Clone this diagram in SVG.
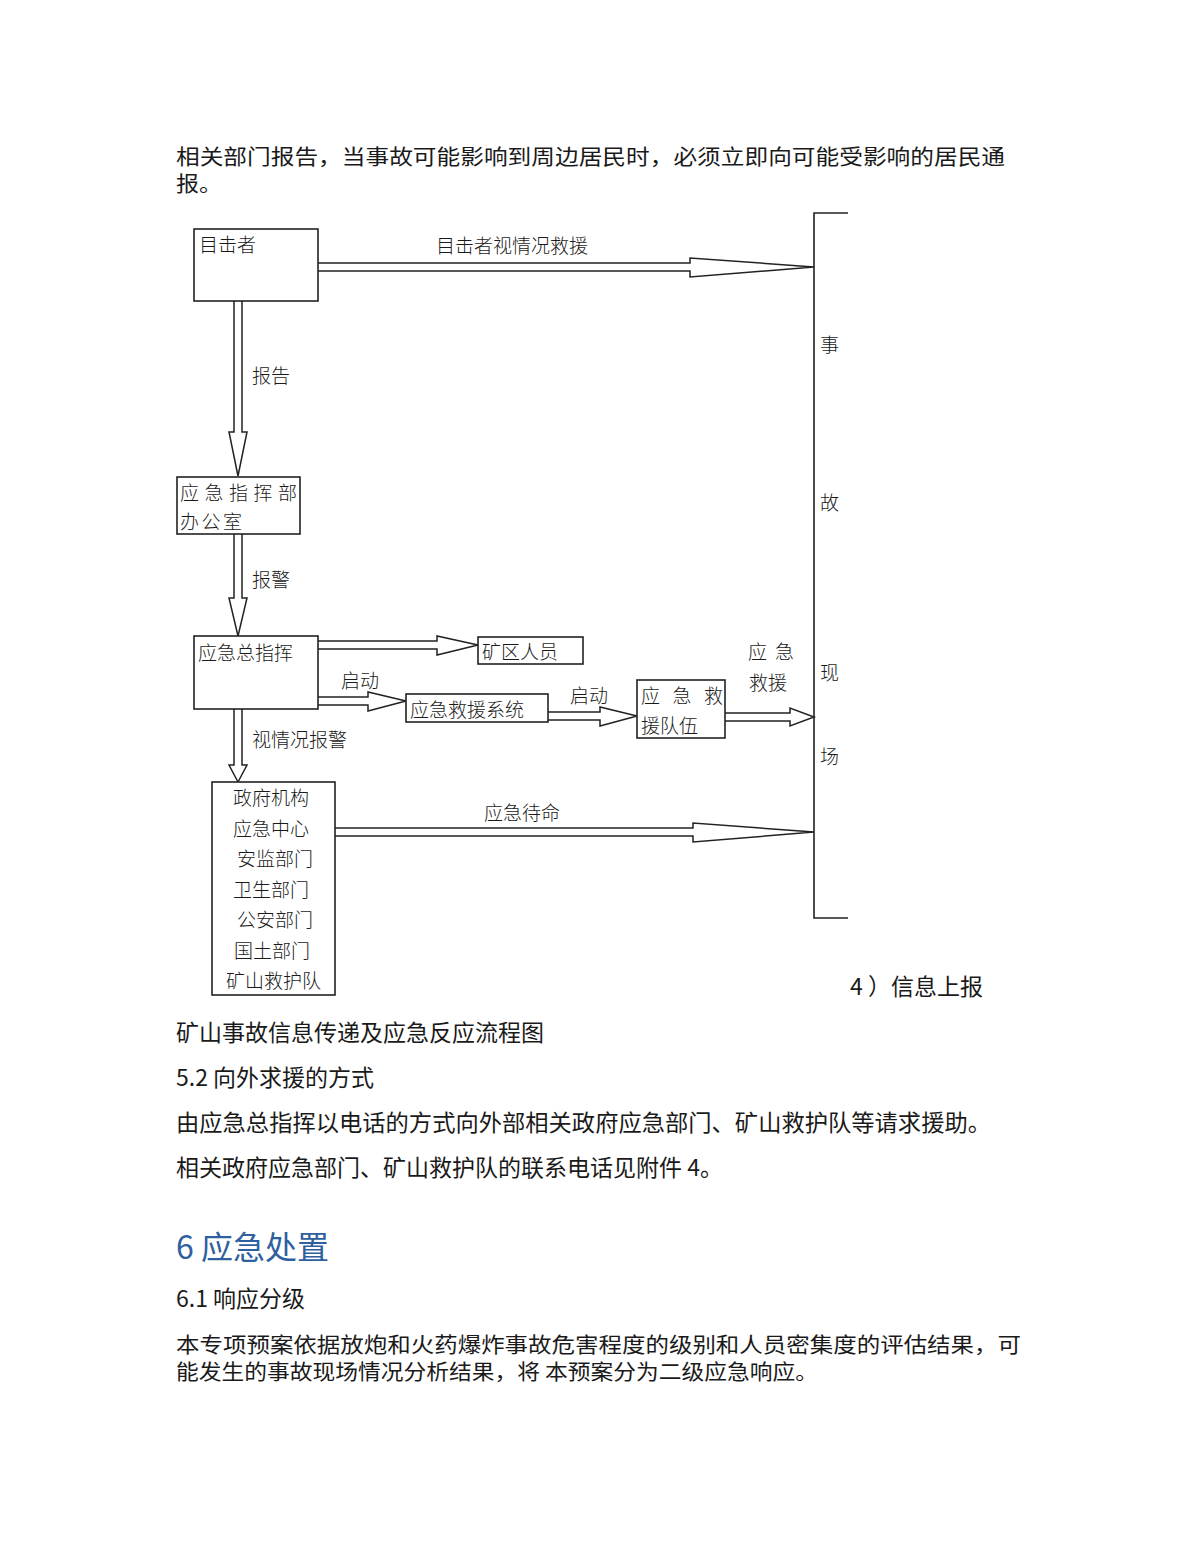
<svg xmlns="http://www.w3.org/2000/svg" width="1200" height="1553" viewBox="0 0 1200 1553">
<style>
.body{font-family:"Noto Sans CJK SC","Liberation Sans",sans-serif;font-size:23px;fill:#1a1a1a;}
.tight{font-size:21px;}
.dg{font-family:"Noto Sans CJK SC","Liberation Sans",sans-serif;font-size:19px;fill:#1a1a1a;font-weight:300;}
.box{fill:#fff;stroke:#222;stroke-width:1.6;}
.arr{fill:#fff;stroke:#222;stroke-width:1.5;stroke-linejoin:miter;}
.ln{fill:none;stroke:#222;stroke-width:1.6;}
.h1{font-family:"Noto Sans CJK SC","Liberation Sans",sans-serif;font-size:32px;fill:#2f5f9e;}
</style>
<rect width="1200" height="1553" fill="#fff"/>

<text class="body tight" x="176" y="164" textLength="829" lengthAdjust="spacingAndGlyphs">相关部门报告，当事故可能影响到周边居民时，必须立即向可能受影响的居民通</text>
<text class="body tight" x="176" y="191" textLength="46" lengthAdjust="spacingAndGlyphs">报。</text>

<g id="connectors">
  <!-- 目击者 -> 事故现场 -->
  <path class="arr" d="M318,263 L690,263 L690,258 L814,267 L690,277 L690,271 L318,271"/>
  <!-- 目击者 -> 应急指挥部办公室 -->
  <path class="arr" d="M234,301 L234,432 L229,432 L238,476 L247,432 L242,432 L242,301"/>
  <!-- 办公室 -> 应急总指挥 -->
  <path class="arr" d="M234,534 L234,598 L229,598 L238,636 L247,598 L242,598 L242,534"/>
  <!-- 应急总指挥 -> 矿区人员 -->
  <path class="arr" d="M318,641 L437,641 L437,636 L478,645 L437,655 L437,649 L318,649"/>
  <!-- 应急总指挥 -> 应急救援系统 -->
  <path class="arr" d="M318,697 L368,697 L368,692 L406,701 L368,711 L368,705 L318,705"/>
  <!-- 应急救援系统 -> 应急救援队伍 -->
  <path class="arr" d="M548,712 L600,712 L600,707 L637,716 L600,726 L600,720 L548,720"/>
  <!-- 应急救援队伍 -> 事故现场 -->
  <path class="arr" d="M725,713 L790,713 L790,708 L814,717 L790,726 L790,721 L725,721"/>
  <!-- 应急总指挥 -> 政府机构 -->
  <path class="arr" d="M234,709 L234,765 L229,765 L238,782 L247,765 L242,765 L242,709"/>
  <!-- 政府机构 -> 事故现场 -->
  <path class="arr" d="M335,828 L693,828 L693,823 L814,832 L693,842 L693,836 L335,836"/>

  <text class="dg" x="512" y="253" text-anchor="middle">目击者视情况救援</text>
  <text class="dg" x="252" y="383">报告</text>
  <text class="dg" x="252" y="587">报警</text>
  <text class="dg" x="341" y="688">启动</text>
  <text class="dg" x="570" y="703">启动</text>
  <text class="dg" x="748" y="659" textLength="46" lengthAdjust="spacing">应急</text>
  <text class="dg" x="749" y="690">救援</text>
  <text class="dg" x="252" y="747">视情况报警</text>
  <text class="dg" x="522" y="820" text-anchor="middle">应急待命</text>
</g>

<g id="n-scene">
  <path class="ln" d="M848,213 L814,213 L814,918 L848,918"/>
  <text class="dg" x="820" y="352">事</text>
  <text class="dg" x="820" y="510">故</text>
  <text class="dg" x="820" y="680">现</text>
  <text class="dg" x="820" y="764">场</text>
</g>

<g id="n-witness">
  <rect class="box" x="194" y="229" width="124" height="72"/>
  <text class="dg" x="199" y="252">目击者</text>
</g>

<g id="n-office">
  <rect class="box" x="177" y="477" width="123" height="57"/>
  <text class="dg" x="180" y="500" textLength="117" lengthAdjust="spacing">应急指挥部</text>
  <text class="dg" x="180" y="529" textLength="62" lengthAdjust="spacing">办公室</text>
</g>

<g id="n-commander">
  <rect class="box" x="194" y="636" width="124" height="73"/>
  <text class="dg" x="198" y="660">应急总指挥</text>
</g>

<g id="n-miners">
  <rect class="box" x="478" y="637" width="105" height="27"/>
  <text class="dg" x="482" y="659">矿区人员</text>
</g>

<g id="n-system">
  <rect class="box" x="406" y="694" width="142" height="28"/>
  <text class="dg" x="410" y="717">应急救援系统</text>
</g>

<g id="n-team">
  <rect class="box" x="637" y="680" width="88" height="58"/>
  <text class="dg" x="641" y="703" textLength="82" lengthAdjust="spacing">应急救</text>
  <text class="dg" x="641" y="733">援队伍</text>
</g>

<g id="n-gov">
  <rect class="box" x="212" y="782" width="123" height="213"/>
  <text class="dg" x="233" y="805">政府机构</text>
  <text class="dg" x="233" y="836">应急中心</text>
  <text class="dg" x="237" y="866">安监部门</text>
  <text class="dg" x="233" y="897">卫生部门</text>
  <text class="dg" x="237" y="927">公安部门</text>
  <text class="dg" x="234" y="958">国土部门</text>
  <text class="dg" x="226" y="988">矿山救护队</text>
</g>

<text class="body" x="850" y="995" font-size="22">4 ）信息上报</text>
<text class="body" x="176" y="1041" font-size="22">矿山事故信息传递及应急反应流程图</text>
<text class="body" x="176" y="1086" font-size="22">5.2 向外求援的方式</text>
<text class="body" x="176" y="1131" textLength="815" lengthAdjust="spacingAndGlyphs">由应急总指挥以电话的方式向外部相关政府应急部门、矿山救护队等请求援助。</text>
<text class="body" x="176" y="1176">相关政府应急部门、矿山救护队的联系电话见附件 4。</text>
<text class="h1" x="176" y="1259">6 应急处置</text>
<text class="body" x="176" y="1307" font-size="22">6.1  响应分级</text>
<text class="body tight" x="176" y="1352" textLength="845" lengthAdjust="spacingAndGlyphs">本专项预案依据放炮和火药爆炸事故危害程度的级别和人员密集度的评估结果，可</text>
<text class="body tight" x="176" y="1379" textLength="642" lengthAdjust="spacingAndGlyphs">能发生的事故现场情况分析结果，将 本预案分为二级应急响应。</text>
</svg>
